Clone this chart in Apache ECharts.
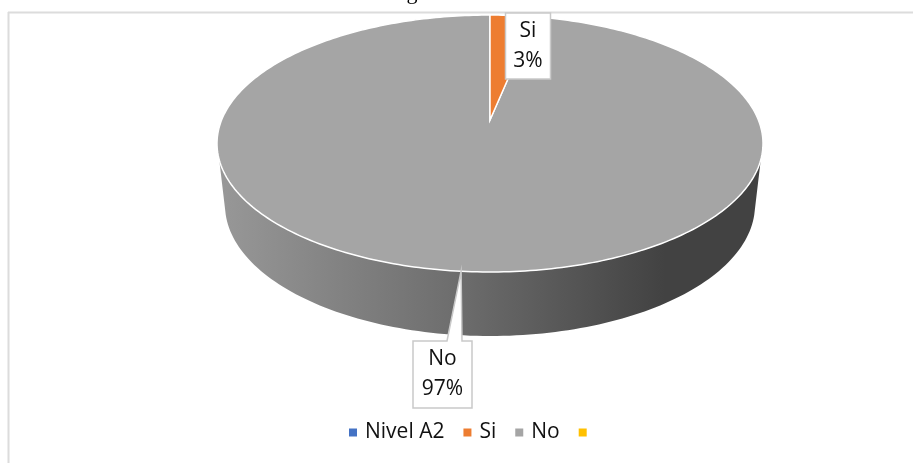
<!DOCTYPE html>
<html>
<head>
<meta charset="utf-8">
<style>html,body{margin:0;padding:0;background:#fff}#c{width:913px;height:463px}</style>
<script src="https://cdn.jsdelivr.net/npm/echarts@6/dist/echarts.min.js"></script>
</head>
<body>
<div id="c"></div>
<script>
var categories = ['Nivel A2', 'Si', 'No', ' '];
var values = [0, 3, 97, 0];
var colors = ['#4472C4', '#ED7D31', '#A5A5A5', '#FFC000'];

// Projection of the tilted pie (layout only)
var TOP = {cx: 490, cy: 143.5, rx: 273, ry: 128.5};
var BASE = {cx: 490, cy: 205, rx: 265, ry: 131};
var APEX = [490, 120];
var FONT = '21px "Open Sans", sans-serif';
var LABEL_BOX = {
  'Si': {x: 505.5, y: 13, w: 45, h: 66},
  'No': {x: 413, y: 341, w: 59, h: 67, base: [447, 462]}
};

var total = values.reduce(function (a, b) { return a + b; }, 0);
var startAngles = [];
values.reduce(function (acc, v, i) { startAngles[i] = acc; return acc + v / total * 360; }, 0);

function rimPoint(deg) {
  var t = deg * Math.PI / 180;
  var b = Math.cos(t) > 0 ? 119 : 135;
  var dx = Math.sin(t) * TOP.rx, dy = -Math.cos(t) * b;
  var ox = APEX[0] - TOP.cx, oy = APEX[1] - TOP.cy;
  var A = dx * dx / (TOP.rx * TOP.rx) + dy * dy / (TOP.ry * TOP.ry);
  var B = 2 * (ox * dx / (TOP.rx * TOP.rx) + oy * dy / (TOP.ry * TOP.ry));
  var C = ox * ox / (TOP.rx * TOP.rx) + oy * oy / (TOP.ry * TOP.ry) - 1;
  var s = (-B + Math.sqrt(B * B - 4 * A * C)) / (2 * A);
  return [APEX[0] + s * dx, APEX[1] + s * dy];
}

function sidePoints() {
  var pts = [], k;
  var edge = Math.asin(16.5 / TOP.ry), baseEdge = Math.asin(10 / BASE.ry);
  for (k = 0; k <= 120; k++) {
    var a = edge + (Math.PI - 2 * edge) * k / 120;
    pts.push([TOP.cx + TOP.rx * Math.cos(a), TOP.cy + TOP.ry * Math.sin(a)]);
  }
  for (k = 120; k >= 0; k--) {
    var c = baseEdge + (Math.PI - 2 * baseEdge) * k / 120;
    pts.push([BASE.cx + BASE.rx * Math.cos(c), BASE.cy + BASE.ry * Math.sin(c)]);
  }
  return pts;
}

function makeRender(i) {
  return function (params, api) {
    var value = api.value(0);
    if (!value) { return {type: 'group', children: []}; }
    var start = startAngles[i], sweep = value / total * 360, name = categories[i];
    var pts = [APEX.slice()];
    var n = Math.max(2, Math.ceil(sweep));
    for (var k = 0; k <= n; k++) { pts.push(rimPoint(start + sweep * k / n)); }
    var children = [];
    if (sweep > 180) {
      children.push({
        type: 'polygon', shape: {points: sidePoints()},
        style: {fill: {type: 'linear', x: 218, y: 0, x2: 763, y2: 0, global: true, colorStops: [
          {offset: 0, color: '#989898'}, {offset: 0.45, color: '#6c6c6c'},
          {offset: 0.82, color: '#424242'}, {offset: 1, color: '#424242'}]}}
      });
    }
    children.push({
      type: 'polygon', shape: {points: pts},
      style: {fill: colors[i], stroke: '#fff', lineWidth: 1.5}
    });
    var box = LABEL_BOX[name], labelStyle = {fill: '#fff', stroke: '#c9c9c9', lineWidth: 1.5};
    if (box.base) {
      var tip = rimPoint(start + sweep / 2);
      children.push({
        type: 'polygon',
        shape: {points: [[box.x, box.y], [box.base[0], box.y], tip, [box.base[1], box.y],
          [box.x + box.w, box.y], [box.x + box.w, box.y + box.h], [box.x, box.y + box.h]]},
        style: labelStyle
      });
    } else {
      children.push({type: 'rect', shape: {x: box.x, y: box.y, width: box.w, height: box.h}, style: labelStyle});
    }
    children.push({
      type: 'text',
      style: {
        x: box.x + box.w / 2, y: box.y + box.h / 2, text: name + '\n' + value + '%',
        align: 'center', verticalAlign: 'middle', font: FONT, lineHeight: 30, fill: '#111'
      }
    });
    return {type: 'group', children: children};
  };
}

var chart = echarts.init(document.getElementById('c'), null, {renderer: 'canvas'});
chart.setOption({
  backgroundColor: '#fff',
  animation: false,
  graphic: [
    {type: 'line', shape: {x1: 8, y1: 12.5, x2: 913, y2: 12.5}, style: {stroke: '#dcdcdc', lineWidth: 2}, z: 1},
    {type: 'line', shape: {x1: 8.5, y1: 12, x2: 8.5, y2: 463}, style: {stroke: '#dcdcdc', lineWidth: 2}, z: 1},
    {type: 'text', style: {x: 412, y: 4, text: 'g', align: 'center', verticalAlign: 'bottom',
      font: '22px "Liberation Serif", serif', fill: '#000'}, z: 1}
  ],
  legend: {
    left: 349, top: 422, padding: 0, itemWidth: 8, itemHeight: 8, itemGap: 19, icon: 'rect',
    data: categories,
    textStyle: {fontFamily: '"Open Sans", sans-serif', fontSize: 21, color: '#111', padding: [0, 0, 0, 3]}
  },
  series: categories.map(function (name, i) {
    return {
      type: 'custom', name: name, coordinateSystem: 'none', silent: true,
      z: name === 'No' ? 2 : 3,
      itemStyle: {color: colors[i]},
      data: [[values[i]]],
      renderItem: makeRender(i)
    };
  })
});
</script>
</body>
</html>
